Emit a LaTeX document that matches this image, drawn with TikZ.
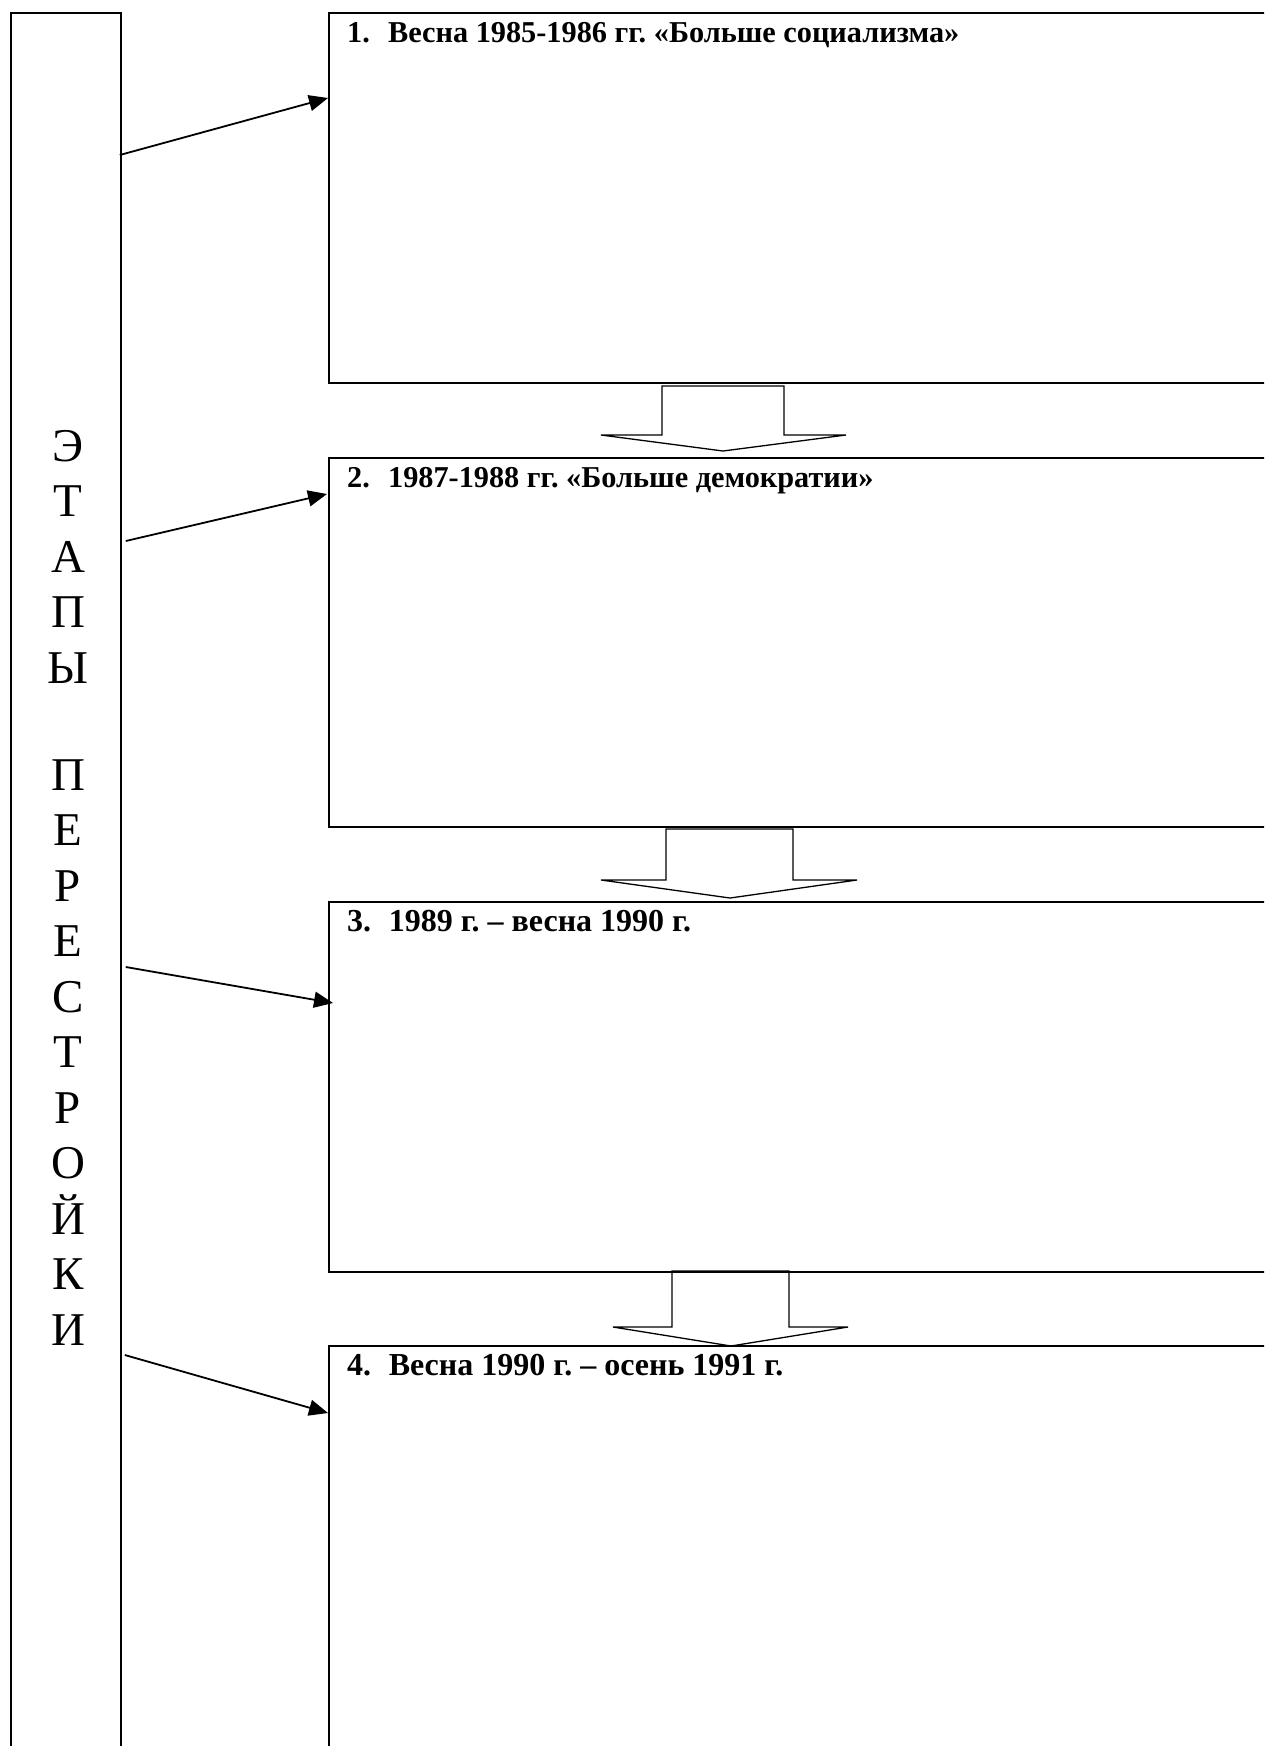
\documentclass[tikz,border=0pt]{standalone}
\usepackage{fontspec}
\setmainfont{Liberation Serif}
\usetikzlibrary{arrows.meta}
\frenchspacing

\begin{document}
\begin{tikzpicture}[x=1pt,y=-1pt,>={Triangle[length=19pt,width=16pt]},
  frame/.style={draw,line width=1.8pt,rectangle,inner sep=0pt,anchor=north west,minimum width=944pt},
  title/.style={font=\fontsize{32}{38}\selectfont\bfseries,anchor=base west,inner sep=0pt},
  letter/.style={font=\fontsize{47}{56}\selectfont,anchor=base,inner sep=0pt},
  hollow/.style={line width=1.3pt,line join=miter},
  link/.style={->,line width=1.8pt}]
  \clip (0,0) rectangle (1264,1746);
  % left column
  \node[frame,minimum width=110pt,minimum height=1760pt] (col) at (10,12) {};
  \foreach \ch [count=\i from 0] in {Э,Т,А,П,Ы}
    \node[letter] (wa\i) at (68,{461+55.5*\i}) {\ch};
  \foreach \ch [count=\i from 0] in {П,Е,Р,Е,С,Т,Р,О,Й,К,И}
    \node[letter] (wb\i) at (68,{790+55.5*\i}) {\ch};
  % stage boxes
  \node[frame,minimum height=370pt] (box1) at (328,12) {};
  \node[frame,minimum height=369pt] (box2) at (328,457) {};
  \node[frame,minimum height=370pt] (box3) at (328,901) {};
  \node[frame,minimum height=420pt] (box4) at (328,1345) {};
  \node[title,font=\fontsize{30.3}{36}\selectfont\bfseries] (t1) at (347,42) {1.\hspace{0.6em}Весна 1985-1986 гг. «Больше социализма»};
  \node[title,font=\fontsize{30.3}{36}\selectfont\bfseries] (t2) at (347,487) {2.\hspace{0.6em}1987-1988 гг. «Больше демократии»};
  \node[title] (t3) at (347,931) {3.\hspace{0.55em}1989 г. – весна 1990 г.};
  \node[title] (t4) at (347,1375) {4.\hspace{0.55em}Весна 1990 г. – осень 1991 г.};
  % arrows from the column
  \draw[link] ([shift={(-2,143)}]col.north east) -- ([shift={(0,86)}]box1.north west);
  \draw[link] ([shift={(4,529)}]col.north east) -- ([shift={(-1,37)}]box2.north west);
  \draw[link] ([shift={(4,955)}]col.north east) -- ([shift={(5,102)}]box3.north west);
  \draw[link] ([shift={(3,1343)}]col.north east) -- ([shift={(0,68)}]box4.north west);
  % hollow arrows between boxes
  \foreach \xl/\xr/\wl/\wr/\xt/\ya/\yb/\yc in {662/784/601/846/723/386/435/451,
      666/793/601/857/730/829/880/898, 672/789/613/848/731/1271/1327/1346}
    \draw[hollow] (\xl,\ya) -- (\xl,\yb) -- (\wl,\yb) -- (\xt,\yc) -- (\wr,\yb)
      -- (\xr,\yb) -- (\xr,\ya) -- cycle;
\end{tikzpicture}
\end{document}
